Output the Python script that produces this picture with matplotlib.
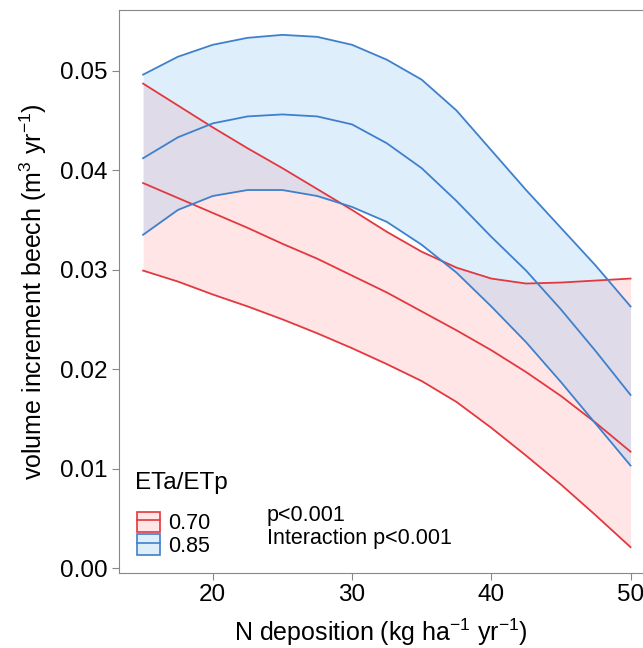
import matplotlib.pyplot as plt
from matplotlib.patches import Patch
from matplotlib.lines import Line2D

plt.rcParams['font.family'] = ['Liberation Sans', 'DejaVu Sans']
plt.rcParams['mathtext.fontset'] = 'custom'
plt.rcParams['mathtext.rm'] = 'Liberation Sans'

# N deposition (kg ha-1 yr-1)
n_dep = [15, 17.5, 20, 22.5, 25, 27.5, 30, 32.5, 35, 37.5, 40, 42.5, 45, 47.5, 50]

# ETa/ETp = 0.70
red_mean  = [0.0387, 0.0372, 0.0357, 0.0342, 0.0326, 0.0311, 0.0294, 0.0277,
             0.0258, 0.0239, 0.0219, 0.0197, 0.0173, 0.0146, 0.0117]
red_lower = [0.0299, 0.0288, 0.0275, 0.0263, 0.0250, 0.0236, 0.0221, 0.0205,
             0.0188, 0.0167, 0.0141, 0.0113, 0.0084, 0.0053, 0.0021]
red_upper = [0.0487, 0.0465, 0.0443, 0.0422, 0.0402, 0.0381, 0.0360, 0.0338,
             0.0318, 0.0302, 0.0291, 0.0286, 0.0287, 0.0289, 0.0291]

# ETa/ETp = 0.85
blue_mean  = [0.0412, 0.0433, 0.0447, 0.0454, 0.0456, 0.0454, 0.0446, 0.0427,
              0.0402, 0.0369, 0.0333, 0.0299, 0.0260, 0.0218, 0.0174]
blue_lower = [0.0335, 0.0360, 0.0374, 0.0380, 0.0380, 0.0374, 0.0363, 0.0348,
              0.0325, 0.0297, 0.0263, 0.0227, 0.0187, 0.0145, 0.0103]
blue_upper = [0.0496, 0.0514, 0.0526, 0.0533, 0.0536, 0.0534, 0.0526, 0.0511,
              0.0491, 0.0460, 0.0420, 0.0380, 0.0342, 0.0304, 0.0263]

labels = ['0.70', '0.85']

red = '#E2383F'
blue = '#3F80CC'
red_fill = (1.0, 0.6, 0.6, 0.25)
blue_fill = (0.5, 0.75, 0.95, 0.25)

fig = plt.figure(figsize=(6.43, 6.48), dpi=100)
ax = fig.add_axes([0.1851, 0.1165, 0.815, 0.8681])

ax.fill_between(n_dep, red_lower, red_upper, color=red_fill, lw=0)
ax.fill_between(n_dep, blue_lower, blue_upper, color=blue_fill, lw=0)
for s in (red_mean, red_lower, red_upper):
    ax.plot(n_dep, s, color=red, lw=1.3)
for s in (blue_mean, blue_lower, blue_upper):
    ax.plot(n_dep, s, color=blue, lw=1.3)

ax.set_xlim(13.27, 50.9)
ax.set_ylim(-0.00045, 0.0561)
ax.set_xticks([20, 30, 40, 50])
ax.set_yticks([0.00, 0.01, 0.02, 0.03, 0.04, 0.05])
ax.set_yticklabels(['0.00', '0.01', '0.02', '0.03', '0.04', '0.05'])
ax.tick_params(labelsize=17.5, length=5, color='#888888', pad=3)
for side in ['left', 'top', 'bottom']:
    ax.spines[side].set_color('#888888')
ax.spines['right'].set_visible(False)

ax.set_xlabel(r'N deposition (kg ha$^{-1}$ yr$^{-1}$)', fontsize=18, labelpad=8)
ax.set_ylabel(r'volume increment beech (m$^{3}$ yr$^{-1}$)', fontsize=18, labelpad=8)

# legend: title drawn as text, entries as patch + line
ax.text(0.030, 0.159, 'ETa/ETp', transform=ax.transAxes, fontsize=17.5,
        ha='left', va='center')
handles = [
    (Patch(facecolor=red_fill, edgecolor=red, lw=1.2), Line2D([], [], color=red, lw=1.2)),
    (Patch(facecolor=blue_fill, edgecolor=blue, lw=1.2), Line2D([], [], color=blue, lw=1.2)),
]
ax.legend(handles, labels, loc='center left', bbox_to_anchor=(0.034, 0.068),
          frameon=False, fontsize=15.5, handlelength=1.07, handleheight=1.1,
          handletextpad=0.4, labelspacing=0.0, borderpad=0, borderaxespad=0)

ax.text(23.9, 0.0041, 'p<0.001\nInteraction p<0.001', fontsize=15.5,
        va='center', ha='left', linespacing=1.15)

fig.savefig('out.png', dpi=100)
